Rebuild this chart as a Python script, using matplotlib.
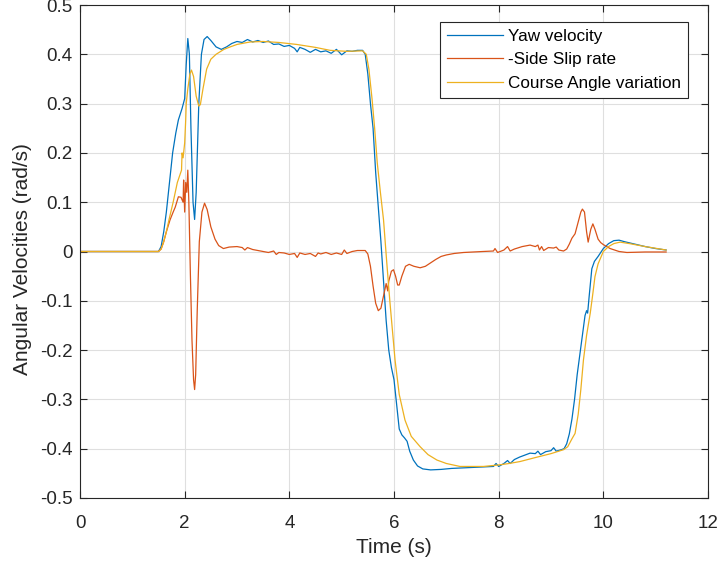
import matplotlib
matplotlib.use("Agg")
import matplotlib.pyplot as plt
from matplotlib.ticker import FixedLocator, FuncFormatter

plt.rcParams['font.family'] = ['Liberation Sans', 'DejaVu Sans']
plt.rcParams['axes.unicode_minus'] = False

# ---- data ----
yaw_t = [0, 1.5, 1.55, 1.6, 1.65, 1.7, 1.77, 1.83, 1.88, 1.95, 2.0, 2.03, 2.06, 2.09, 2.12, 2.16,
         2.19, 2.22, 2.27, 2.32, 2.37, 2.43, 2.5, 2.6, 2.7, 2.8, 2.9, 3.0, 3.1, 3.2, 3.3, 3.4,
         3.5, 3.6, 3.7, 3.8, 3.9, 4.0, 4.1, 4.15, 4.2, 4.3, 4.4, 4.5, 4.6, 4.7, 4.8, 4.9, 5.0,
         5.1, 5.2, 5.3, 5.4, 5.45, 5.5, 5.55, 5.6, 5.65, 5.7, 5.75, 5.8, 5.85, 5.9, 5.95, 6.0,
         6.05, 6.1, 6.15, 6.2, 6.25, 6.3, 6.37, 6.45, 6.55, 6.7, 6.9, 7.1, 7.3, 7.5, 7.7, 7.9,
         7.95, 8.0, 8.1, 8.17, 8.22, 8.3, 8.4, 8.5, 8.6, 8.7, 8.75, 8.8, 8.9, 9.0, 9.05, 9.1,
         9.2, 9.25, 9.3, 9.35, 9.4, 9.45, 9.5, 9.55, 9.6, 9.65, 9.68, 9.7, 9.73, 9.78, 9.83,
         9.9, 10.0, 10.1, 10.2, 10.3, 10.4, 10.6, 10.8, 11.0, 11.2]
yaw_v = [0, 0, 0.01, 0.04, 0.08, 0.13, 0.20, 0.24, 0.267, 0.29, 0.31, 0.38, 0.432, 0.40, 0.25, 0.10,
         0.065, 0.12, 0.30, 0.40, 0.43, 0.436, 0.428, 0.415, 0.41, 0.415, 0.422, 0.426, 0.424, 0.43, 0.425, 0.428,
         0.424, 0.427, 0.42, 0.421, 0.416, 0.418, 0.412, 0.405, 0.414, 0.41, 0.404, 0.41, 0.405, 0.407, 0.402, 0.41, 0.399,
         0.407, 0.406, 0.408, 0.408, 0.40, 0.36, 0.30, 0.25, 0.16, 0.09, 0.02, -0.06, -0.14, -0.20, -0.235, -0.26,
         -0.31, -0.36, -0.372, -0.378, -0.385, -0.405, -0.423, -0.435, -0.441, -0.443, -0.442, -0.44, -0.439, -0.438, -0.437, -0.436,
         -0.43, -0.436, -0.43, -0.424, -0.43, -0.422, -0.417, -0.413, -0.409, -0.41, -0.405, -0.412, -0.406, -0.404, -0.398, -0.405,
         -0.402, -0.400, -0.39, -0.37, -0.34, -0.30, -0.25, -0.21, -0.17, -0.13, -0.12, -0.125, -0.09, -0.035, -0.02,
         -0.01, 0.006, 0.016, 0.022, 0.023, 0.02, 0.015, 0.01, 0.006, 0.003]

slip_t = [0, 1.5, 1.55, 1.6, 1.65, 1.72, 1.78, 1.82, 1.88, 1.93, 1.97, 1.98, 2.0, 2.02, 2.04, 2.06,
          2.08, 2.11, 2.14, 2.17, 2.19, 2.21, 2.24, 2.28, 2.33, 2.38, 2.43, 2.5, 2.58, 2.65, 2.74,
          2.85, 3.0, 3.1, 3.15, 3.2, 3.3, 3.4, 3.5, 3.6, 3.7, 3.75, 3.8, 3.9, 4.0, 4.1, 4.15, 4.2,
          4.3, 4.4, 4.5, 4.55, 4.6, 4.7, 4.8, 4.9, 5.0, 5.05, 5.1, 5.2, 5.3, 5.45, 5.5, 5.55, 5.6,
          5.65, 5.7, 5.75, 5.8, 5.85, 5.88, 5.9, 5.95, 5.99, 6.03, 6.07, 6.1, 6.15, 6.22, 6.29, 6.38,
          6.5, 6.6, 6.7, 6.8, 6.9, 7.0, 7.15, 7.33, 7.5, 7.7, 7.9, 7.93, 7.98, 8.1, 8.17, 8.22, 8.3,
          8.45, 8.6, 8.7, 8.75, 8.78, 8.82, 8.86, 8.95, 9.05, 9.1, 9.15, 9.24, 9.3, 9.35, 9.4, 9.46,
          9.52, 9.57, 9.6, 9.64, 9.68, 9.71, 9.76, 9.8, 9.84, 9.9, 9.95, 10.0, 10.13, 10.3, 10.45,
          10.8, 11.2]
slip_v = [0, 0, 0.005, 0.02, 0.04, 0.064, 0.08, 0.09, 0.111, 0.11, 0.10, 0.145, 0.08, 0.14, 0.12, 0.165,
          0.10, -0.05, -0.18, -0.26, -0.28, -0.25, -0.12, 0.02, 0.08, 0.098, 0.085, 0.05, 0.025, 0.012, 0.006,
          0.009, 0.01, 0.008, 0.003, 0.008, 0.004, 0.002, 0.0, -0.002, 0.001, -0.006, -0.002, -0.003, -0.006, -0.004, -0.012, -0.003,
          -0.006, -0.004, -0.01, -0.003, -0.005, -0.002, -0.006, -0.003, -0.006, 0.003, -0.004, 0.0, 0.002, 0.002, -0.005, -0.03, -0.07,
          -0.105, -0.12, -0.115, -0.09, -0.065, -0.08, -0.06, -0.04, -0.037, -0.05, -0.068, -0.068, -0.05, -0.03, -0.026, -0.03,
          -0.033, -0.03, -0.023, -0.016, -0.01, -0.007, -0.004, -0.002, -0.001, 0.0, 0.001, 0.006, -0.002, 0.003, 0.01, 0.001, 0.005,
          0.01, 0.013, 0.01, 0.013, 0.003, 0.01, 0.002, 0.008, 0.007, 0.009, 0.003, 0.001, 0.005, 0.015, 0.027, 0.036,
          0.06, 0.08, 0.086, 0.08, 0.04, 0.019, 0.045, 0.056, 0.045, 0.025, 0.018, 0.014, 0.006, 0.0, -0.002,
          -0.001, -0.001]

course_t = [0, 1.5, 1.55, 1.6, 1.65, 1.7, 1.78, 1.86, 1.94, 1.95, 1.97, 2.0, 2.02, 2.03, 2.06, 2.1,
            2.13, 2.17, 2.22, 2.27, 2.3, 2.35, 2.42, 2.5, 2.6, 2.75, 2.87, 3.0, 3.25, 3.5, 3.8, 4.14,
            4.5, 4.78, 5.1, 5.4, 5.47, 5.52, 5.58, 5.63, 5.68, 5.74, 5.8, 5.86, 5.92, 5.97, 6.02, 6.1,
            6.21, 6.33, 6.5, 6.65, 6.82, 7.0, 7.26, 7.5, 7.71, 8.0, 8.2, 8.41, 8.7, 9.0, 9.24, 9.32,
            9.4, 9.46, 9.52, 9.57, 9.62, 9.68, 9.75, 9.8, 9.84, 9.9, 10.0, 10.1, 10.2, 10.32, 10.5,
            10.8, 11.2]
course_v = [0, 0, 0.005, 0.02, 0.04, 0.064, 0.10, 0.14, 0.165, 0.20, 0.19, 0.22, 0.267, 0.30, 0.33, 0.36,
            0.368, 0.355, 0.315, 0.295, 0.298, 0.33, 0.37, 0.39, 0.40, 0.41, 0.415, 0.42, 0.425, 0.426, 0.424, 0.42,
            0.414, 0.408, 0.406, 0.407, 0.40, 0.37, 0.31, 0.25, 0.18, 0.12, 0.064, -0.02, -0.10, -0.16, -0.22, -0.29,
            -0.342, -0.375, -0.396, -0.412, -0.423, -0.43, -0.436, -0.436, -0.436, -0.433, -0.43, -0.426, -0.418, -0.41, -0.402, -0.396,
            -0.38, -0.369, -0.33, -0.28, -0.22, -0.17, -0.125, -0.085, -0.051, -0.025, 0.0, 0.01, 0.016, 0.019, 0.016,
            0.01, 0.003]

series_labels = ['Yaw velocity', '-Side Slip rate', 'Course Angle variation']
x_ticks = [0, 2, 4, 6, 8, 10, 12]
y_ticks = [-0.5, -0.4, -0.3, -0.2, -0.1, 0, 0.1, 0.2, 0.3, 0.4, 0.5]

# ---- figure ----
fig = plt.figure(figsize=(7.2, 5.69), dpi=100)
ax = fig.add_axes([80 / 720, 71 / 569, 628 / 720, 493 / 569])

edge = '#262626'
ax.plot(yaw_t, yaw_v, color='#0072BD', lw=0.9, label=series_labels[0])
ax.plot(slip_t, slip_v, color='#D95319', lw=0.9, label=series_labels[1])
ax.plot(course_t, course_v, color='#EDB120', lw=0.9, label=series_labels[2])

ax.set_xlim(0, 12)
ax.set_ylim(-0.5, 0.5)
ax.xaxis.set_major_locator(FixedLocator(x_ticks))
ax.yaxis.set_major_locator(FixedLocator(y_ticks))
ax.yaxis.set_major_formatter(FuncFormatter(lambda v, p: '%g' % round(v, 2)))
ax.xaxis.set_major_formatter(FuncFormatter(lambda v, p: '%g' % v))

ax.grid(True, color='#DFDFDF', lw=0.8)
ax.set_axisbelow(True)
for s in ax.spines.values():
    s.set_color(edge)
    s.set_linewidth(0.8)
ax.tick_params(direction='in', length=5, width=0.8, color=edge, labelcolor=edge,
               labelsize=13.5, top=True, right=True)
ax.tick_params(axis='x', pad=12)
ax.tick_params(axis='y', pad=5.5)

ax.set_xlabel('Time (s)', fontsize=15, color=edge)
ax.set_ylabel('Angular Velocities (rad/s)', fontsize=15, color=edge)
ax.xaxis.set_label_coords(0.5, -0.081)
ax.yaxis.set_label_coords(-0.0764, 0.485)

leg = ax.legend(loc='upper right', bbox_to_anchor=(0.968, 0.966), borderaxespad=0,
                fancybox=False, framealpha=1, edgecolor=edge, fontsize=12.3,
                handlelength=3.3, handletextpad=0.3, labelspacing=0.5,
                borderpad=0.4)
leg.get_frame().set_linewidth(0.8)

fig.savefig('out.png', dpi=100)
